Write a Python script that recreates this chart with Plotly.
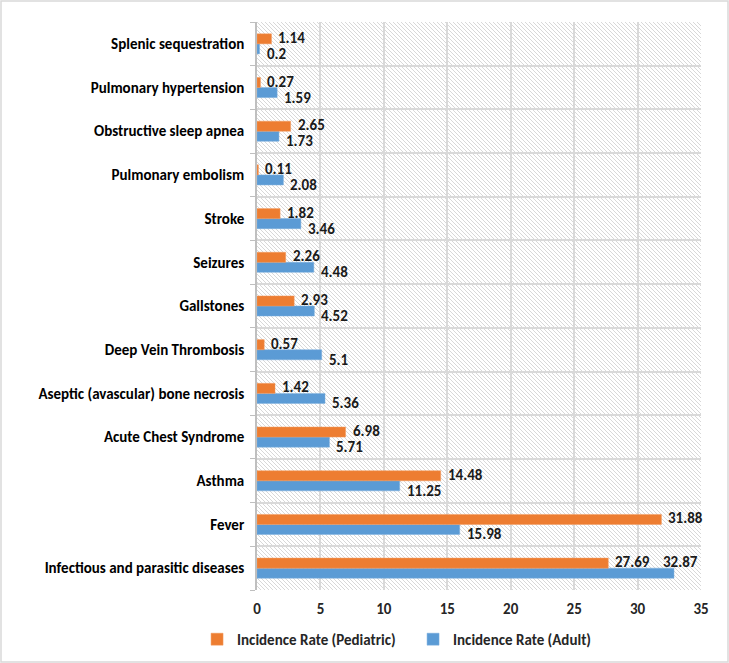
import base64
import plotly.graph_objects as go

categories = [
    "Infectious and parasitic diseases",
    "Fever",
    "Asthma",
    "Acute Chest Syndrome",
    "Aseptic (avascular) bone necrosis",
    "Deep Vein Thrombosis",
    "Gallstones",
    "Seizures",
    "Stroke",
    "Pulmonary embolism",
    "Obstructive sleep apnea",
    "Pulmonary hypertension",
    "Splenic sequestration",
]
pediatric = [27.69, 31.88, 14.48, 6.98, 1.42, 0.57, 2.93, 2.26, 1.82, 0.11, 2.65, 0.27, 1.14]
adult = [32.87, 15.98, 11.25, 5.71, 5.36, 5.1, 4.52, 4.48, 3.46, 2.08, 1.73, 1.59, 0.2]
x_ticks = [0, 5, 10, 15, 20, 25, 30, 35]
X_MAX = 35

W, H = 729, 663
ML, MR, MT, MB = 257, 28, 22, 73
PW, PH = W - ML - MR, H - MT - MB

FONT = "Carlito, 'Liberation Sans Narrow', 'DejaVu Sans Condensed', 'Liberation Sans', sans-serif"

svg = (
    f'<svg xmlns="http://www.w3.org/2000/svg" width="{PW}" height="{PH}">'
    '<defs><pattern id="p" width="4" height="4" patternUnits="userSpaceOnUse">'
    '<path d="M-1,3 l2,2 M0,0 l4,4 M3,-1 l2,2" stroke="#d4d4d4" stroke-width="0.9"/>'
    '</pattern></defs>'
    f'<rect width="{PW}" height="{PH}" fill="url(#p)"/></svg>'
)
svg_uri = "data:image/svg+xml;base64," + base64.b64encode(svg.encode()).decode()

label_font = dict(family=FONT, size=15, color="#1a1a1a", weight="bold")

fig = go.Figure()
fig.add_trace(go.Bar(
    y=categories, x=adult, orientation="h", name="Incidence Rate (Adult)",
    marker=dict(color="#5B9BD5", line=dict(color="#7FB0DE", width=0.5)),
    legendrank=2,
))
fig.add_trace(go.Bar(
    y=categories, x=pediatric, orientation="h", name="Incidence Rate (Pediatric)",
    marker=dict(color="#ED7D31", line=dict(color="#F29A5E", width=0.5)),
    legendrank=1,
))

# data labels (Excel-style: outside end; labels that would overflow move inside the plot edge)
annotations = []
for cat, pv, av in zip(categories, pediatric, adult):
    annotations.append(dict(x=pv, y=cat, xref="x", yref="y", text=f"{pv:g}",
                            showarrow=False, xanchor="left", xshift=5, yshift=6,
                            font=label_font))
    if av + 3 > X_MAX:
        annotations.append(dict(x=X_MAX, y=cat, xref="x", yref="y", text=f"{av:g}",
                                showarrow=False, xanchor="right", xshift=-1, yshift=6,
                                font=label_font))
    else:
        annotations.append(dict(x=av, y=cat, xref="x", yref="y", text=f"{av:g}",
                                showarrow=False, xanchor="left", xshift=5, yshift=-10,
                                font=label_font))

fig.update_layout(
    width=W, height=H,
    margin=dict(l=ML, r=MR, t=MT, b=MB, autoexpand=False),
    paper_bgcolor="white", plot_bgcolor="white",
    barmode="group", bargap=0.54, bargroupgap=0,
    font=dict(family=FONT, size=15, color="#262626"),
    legend=dict(orientation="h", x=-0.135, xanchor="left", y=-0.058, yanchor="top",
                font=dict(family=FONT, size=15, color="#262626", weight="bold"),
                entrywidth=171, entrywidthmode="pixels",
                traceorder="normal"),
    xaxis=dict(range=[0, X_MAX], tickvals=x_ticks, showgrid=True, gridcolor="#d9d9d9",
               gridwidth=1.5, zeroline=False, showline=False, ticks="",
               ticklabelstandoff=8,
               tickfont=dict(family=FONT, size=15, color="#262626", weight="bold")),
    yaxis=dict(type="category", categoryorder="array", categoryarray=categories,
               tickson="boundaries", showgrid=True, gridcolor="#d9d9d9", gridwidth=1.5,
               showline=True, linecolor="#bfbfbf", linewidth=1.5,
               ticks="outside", ticklen=5, tickcolor="#bfbfbf", ticklabelstandoff=8,
               tickfont=dict(family=FONT, size=15, color="#000000", weight="bold")),
    annotations=annotations,
    images=[dict(source=svg_uri, xref="paper", yref="paper", x=0, y=1,
                 sizex=1, sizey=1, xanchor="left", yanchor="top",
                 sizing="stretch", layer="below")],
    shapes=[dict(type="rect", xref="paper", yref="paper",
                 x0=-(ML - 1) / PW, x1=1 + (MR - 1) / PW,
                 y0=-(MB - 1) / PH, y1=1 + (MT - 1) / PH,
                 line=dict(color="#d9d9d9", width=1.5))],
)

fig.write_html("out.html", config={"displayModeBar": False},
               post_script="document.body.style.margin='0';")
